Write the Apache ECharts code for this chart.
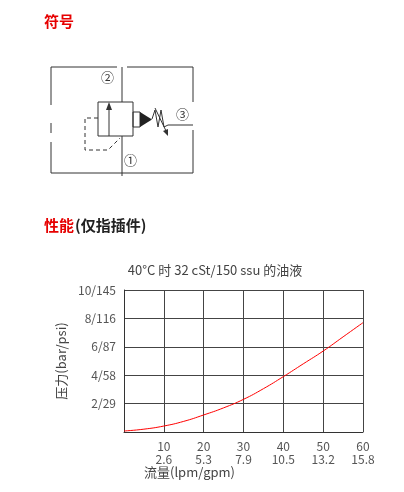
<!DOCTYPE html>
<html><head><meta charset="utf-8">
<script src="https://cdn.jsdelivr.net/npm/echarts@6/dist/echarts.min.js"></script>
<style>html,body{margin:0;background:#fff}#c{width:404px;height:492px}</style>
</head><body><div id="c"></div>
<script>
var flowLpm = [0, 5, 10, 15, 20, 25, 30, 35, 40, 45, 50, 55, 60];
var pressureBar = [0.07, 0.2, 0.42, 0.75, 1.2, 1.7, 2.3, 3.05, 3.9, 4.8, 5.7, 6.7, 7.7];
var gpmLabels = {10: '2.6', 20: '5.3', 30: '7.9', 40: '10.5', 50: '13.2', 60: '15.8'};
var psiLabels = {2: '29', 4: '58', 6: '87', 8: '116', 10: '145'};

var FONT = '"Noto Sans CJK SC", "Noto Sans", sans-serif';
var ln = function (pts, dash) {
    return { type: 'polyline', shape: { points: pts },
        style: { stroke: '#333', lineWidth: 1, fill: null, lineDash: dash ? [4, 3] : null } };
};
var txt = function (x, y, t, size, color, weight) {
    return { type: 'text', x: x, y: y, style: { text: t, font: (weight || 'normal') + ' ' + size + 'px ' + FONT, fill: color } };
};

var symbol = [
    txt(44, 14, '符号', 15, '#e60000', 'bold'),
    txt(44, 218, '性能', 15, '#e60000', 'bold'),
    txt(75, 218, '(仅指插件)', 15, '#222', 'bold'),
    ln([[51, 105], [51, 67], [117, 67]]),
    ln([[127, 67], [193, 67], [193, 102]]),
    ln([[51, 123], [51, 133]]),
    ln([[51, 142], [51, 173], [193, 173], [193, 130]]),
    ln([[122, 67], [122, 102]]),
    ln([[122, 136], [122, 176]]),
    { type: 'rect', shape: { x: 98, y: 102, width: 35, height: 34 }, style: { stroke: '#333', fill: null } },
    ln([[109, 136], [109, 106]]),
    { type: 'polygon', shape: { points: [[109, 102], [106, 110], [112, 110]] }, style: { fill: '#333' } },
    { type: 'rect', shape: { x: 133, y: 112, width: 7, height: 15 }, style: { stroke: '#333', fill: null } },
    { type: 'polygon', shape: { points: [[140, 112], [140, 127], [152, 119.5]] }, style: { fill: '#222' } },
    ln([[152, 119], [155, 110], [158, 127], [161, 110], [164, 127], [168, 125], [193, 125]]),
    ln([[155, 108], [167, 133]]),
    { type: 'polygon', shape: { points: [[168, 136], [163, 131], [168, 129]] }, style: { fill: '#333' } },
    ln([[98, 118], [85, 118], [85, 150], [108, 150], [120, 138]], true),
    txt(101, 71, '②', 13, '#333'),
    txt(176, 108, '③', 13, '#333'),
    txt(124, 154, '①', 13, '#333'),
    txt(215, 264, '40°C 时 32 cSt/150 ssu 的油液', 13, '#444')
];
symbol[symbol.length - 1].style.align = 'center';

var chart = echarts.init(document.getElementById('c'));
chart.setOption({
    animation: false,
    graphic: symbol,
    grid: { left: 124, right: 41, top: 290, bottom: 60 },
    xAxis: {
        type: 'value', min: 0, max: 60, interval: 10,
        name: '流量(lpm/gpm)', nameLocation: 'start', nameGap: 0,
        nameTextStyle: { color: '#444', fontSize: 13, fontFamily: FONT, align: 'left', verticalAlign: 'top', padding: [34, 0, 0, 20] },
        axisLine: { lineStyle: { color: '#333' } }, axisTick: { show: false },
        splitLine: { lineStyle: { color: '#444' } },
        axisLabel: { color: '#555', fontSize: 12, fontFamily: FONT, lineHeight: 13,
            formatter: function (v) { return v === 0 ? '' : v + '\n' + gpmLabels[v]; } }
    },
    yAxis: {
        type: 'value', min: 0, max: 10, interval: 2,
        name: '压力(bar/psi)', nameLocation: 'middle', nameGap: 42,
        nameTextStyle: { color: '#444', fontSize: 13, fontFamily: FONT },
        axisLine: { show: true, lineStyle: { color: '#333' } }, axisTick: { show: false },
        splitLine: { lineStyle: { color: '#444' } },
        axisLabel: { color: '#555', fontSize: 12, fontFamily: FONT,
            formatter: function (v) { return v === 0 ? '' : v + '/' + psiLabels[v]; } }
    },
    series: [{
        type: 'line', smooth: true, showSymbol: false,
        data: flowLpm.map(function (x, i) { return [x, pressureBar[i]]; }),
        lineStyle: { color: '#ff0000', width: 1 }
    }]
});
</script></body></html>
